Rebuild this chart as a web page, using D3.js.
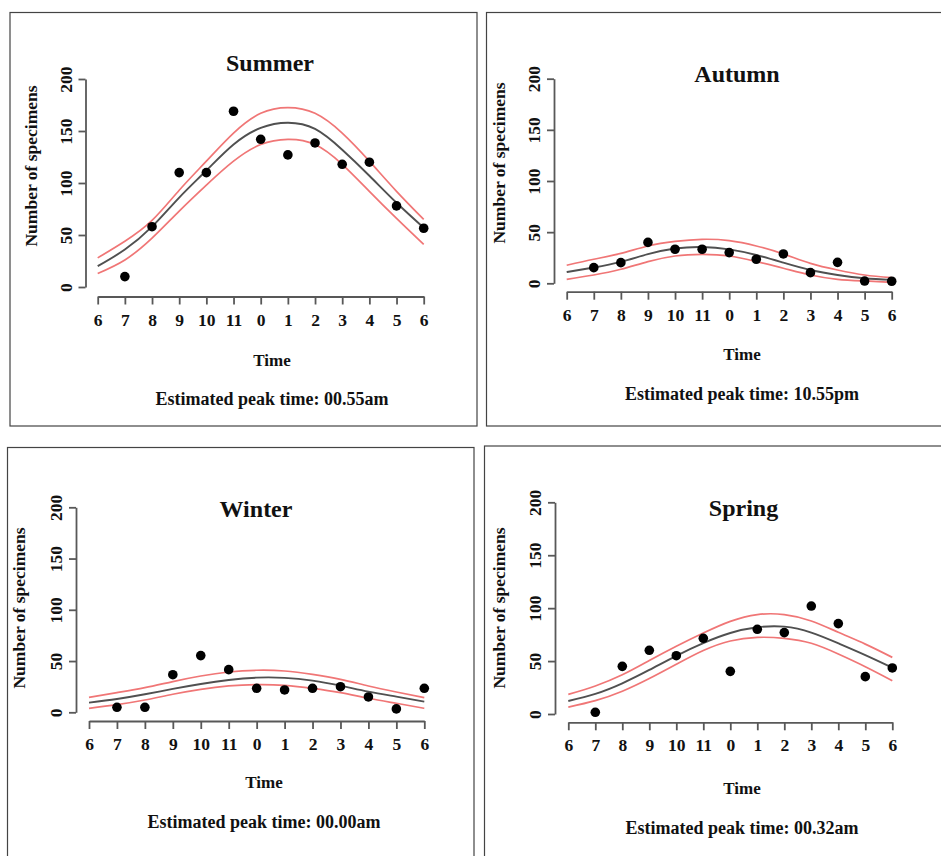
<!DOCTYPE html>
<html>
<head>
<meta charset="utf-8">
<script src="https://cdn.jsdelivr.net/npm/d3@7"></script>
<style>
body { margin: 0; background: #fff; }
svg { display: block; }
text { font-family: "Liberation Serif", "Times New Roman", serif; font-weight: bold; fill: #111; }
</style>
</head>
<body>
<div id="chart"></div>
<script>
/* DATA */
// Hour slots on the x axis (6pm -> 6am)
const hourLabels = ["6", "7", "8", "9", "10", "11", "0", "1", "2", "3", "4", "5", "6"];
const curveSlots = [0, 1, 2, 3, 4, 5, 6, 7, 8, 9, 10, 11, 12];
const countSlots = [1, 2, 3, 4, 5, 6, 7, 8, 9, 10, 11, 12];
const yTicks = [0, 50, 100, 150, 200];

// Summer
const summerCounts = [10, 58, 110, 110, 169, 142, 127, 138.5, 118, 120, 78, 56.5];
const summerFit = [20, 36, 58, 86, 112, 137, 153, 158, 152, 132, 107, 81, 57];
const summerUpper = [28, 44, 64, 93, 121, 148, 167, 172.5, 167, 148, 121, 92, 65];
const summerLower = [13, 26, 47, 73, 98, 121, 137, 142, 137, 118, 92, 66, 41];

// Autumn
const autumnCounts = [15.3, 20.2, 40, 33.3, 33.3, 30, 23.5, 28.7, 10.4, 20.5, 2.2, 2];
const autumnFit = [11, 15.5, 21, 28.5, 34, 35.5, 33.2, 27.7, 20.2, 13, 8.1, 4.9, 3.3];
const autumnUpper = [17.6, 23.5, 29.3, 36.5, 41, 43, 41.7, 36.5, 28.7, 19.5, 13, 8.1, 5.5];
const autumnLower = [3.9, 8.1, 13.7, 21.2, 26.7, 28.3, 26.7, 21.2, 14.7, 8.1, 3.9, 2.3, 1];

// Winter
const winterCounts = [4.9, 4.9, 36.7, 55.3, 41.6, 23.4, 21.8, 23.4, 25, 15, 3.3, 23.4];
const winterFit = [9.4, 13, 17.6, 22.8, 27.6, 31.5, 33.8, 33.6, 30.9, 26, 20.2, 15.3, 10.4];
const winterUpper = [14.6, 19.2, 24, 30, 35.4, 39.3, 41, 40.3, 37, 32.2, 25.7, 19.8, 14.3];
const winterLower = [3.9, 7.5, 12, 17.6, 22.4, 25.7, 27, 26.3, 23.4, 19.2, 13.7, 8.8, 3.9];

// Spring
const springCounts = [1.6, 45, 60.2, 55.1, 71.5, 40.3, 80, 76.9, 102, 85.4, 35.3, 43.5];
const springFit = [12.3, 19, 29, 41.6, 55, 67, 76.5, 81.9, 82.5, 76.9, 66.8, 55.7, 43.8];
const springUpper = [18.5, 26.5, 37, 50.5, 64, 76.5, 87.5, 93.9, 93.9, 87.9, 77.2, 66, 53.5];
const springLower = [6.5, 12.6, 21.5, 33.5, 47, 60, 69, 72.4, 71.5, 66.8, 56.7, 44.7, 31.5];

/* LAYOUT */
const panels = [
    {
        title: "Summer", peak: "Estimated peak time: 00.55am",
        counts: summerCounts, fit: summerFit, upper: summerUpper, lower: summerLower,
        box: [10, 12.5, 467, 413.5], axisX: 85.5, y0: 287, y1: 79, axisY: 296.5, x0: 97.7, x1: 423.7,
        titleX: 270, titleY: 71, labX: 272, timeY: 365.5, estY: 404.5, ylabX: 30.5, ylabY: 166
    },
    {
        title: "Autumn", peak: "Estimated peak time: 10.55pm",
        counts: autumnCounts, fit: autumnFit, upper: autumnUpper, lower: autumnLower,
        box: [486.5, 12.5, 470, 413.5], axisX: 554, y0: 283.3, y1: 78.7, axisY: 291.7, x0: 566.7, x1: 891.7,
        titleX: 737, titleY: 82, labX: 742, timeY: 360, estY: 400, ylabX: 499, ylabY: 163
    },
    {
        title: "Winter", peak: "Estimated peak time: 00.00am",
        counts: winterCounts, fit: winterFit, upper: winterUpper, lower: winterLower,
        box: [7.5, 447.5, 466.5, 420], axisX: 76, y0: 712.3, y1: 507.3, axisY: 721, x0: 89, x1: 424.3,
        titleX: 256, titleY: 516.5, labX: 264, timeY: 788, estY: 828, ylabX: 19, ylabY: 608
    },
    {
        title: "Spring", peak: "Estimated peak time: 00.32am",
        counts: springCounts, fit: springFit, upper: springUpper, lower: springLower,
        box: [484.5, 446, 470, 420], axisX: 555, y0: 714, y1: 502.3, axisY: 722.3, x0: 568.3, x1: 892.3,
        titleX: 743.5, titleY: 516, labX: 742, timeY: 794, estY: 834, ylabX: 499, ylabY: 608
    }
];

const W = 941, H = 856;
const red = "#f07676";
const dark = "#505050";
const axisCol = "#585858";

const svg = d3.select("#chart")
    .append("svg")
    .attr("width", W)
    .attr("height", H);
svg.append("rect").attr("width", W).attr("height", H).attr("fill", "#fff");

panels.forEach(p => {
    const g = svg.append("g");
    // Frame
    g.append("rect")
        .attr("x", p.box[0]).attr("y", p.box[1])
        .attr("width", p.box[2]).attr("height", p.box[3])
        .attr("fill", "none")
        .attr("stroke", "#444")
        .attr("stroke-width", 1.2);

    const x = d3.scaleLinear().domain([0, 12]).range([p.x0, p.x1]);
    const y = d3.scaleLinear().domain([0, 200]).range([p.y0, p.y1]);

    // X axis
    const xa = g.append("g")
        .attr("transform", `translate(0, ${p.axisY})`)
        .attr("color", axisCol)
        .call(d3.axisBottom(x).tickValues(curveSlots).tickFormat((d, i) => hourLabels[i]).tickSize(8).tickSizeOuter(0));
    xa.selectAll("path, line").attr("stroke-width", 1.8);
    xa.selectAll("text")
        .attr("y", 29)
        .attr("dy", null)
        .style("font-size", "17.5px");

    // Y axis
    const ya = g.append("g")
        .attr("transform", `translate(${p.axisX}, 0)`)
        .attr("color", axisCol)
        .call(d3.axisLeft(y).tickValues(yTicks).tickSize(7).tickSizeOuter(0));
    ya.selectAll("path, line").attr("stroke-width", 1.8);
    ya.selectAll("text")
        .attr("x", null)
        .attr("dy", "0.35em")
        .attr("text-anchor", "middle")
        .attr("transform", "translate(-20, 0) rotate(-90)")
        .style("font-size", "17.5px");

    // Fitted curve and bounds
    const line = (vals) => d3.line()
        .x((d, i) => x(curveSlots[i]))
        .y(d => y(d))
        .curve(d3.curveNatural)(vals);
    [p.upper, p.lower].forEach(vals => {
        g.append("path").attr("d", line(vals))
            .attr("fill", "none").attr("stroke", red).attr("stroke-width", 1.7);
    });
    g.append("path").attr("d", line(p.fit))
        .attr("fill", "none").attr("stroke", dark).attr("stroke-width", 1.9);

    // Observed counts
    g.selectAll("circle.pt")
        .data(p.counts)
        .join("circle")
        .attr("class", "pt")
        .attr("cx", (d, i) => x(countSlots[i]))
        .attr("cy", d => y(d))
        .attr("r", 4.8)
        .attr("fill", "#000");

    // Texts
    g.append("text")
        .attr("x", p.titleX).attr("y", p.titleY)
        .attr("text-anchor", "middle")
        .style("font-size", "24px")
        .text(p.title);
    g.append("text")
        .attr("x", p.labX).attr("y", p.timeY)
        .attr("text-anchor", "middle")
        .style("font-size", "17px")
        .text("Time");
    g.append("text")
        .attr("x", p.labX).attr("y", p.estY)
        .attr("text-anchor", "middle")
        .style("font-size", "18px")
        .text(p.peak);
    g.append("text")
        .attr("transform", `translate(${p.ylabX}, ${p.ylabY}) rotate(-90)`)
        .attr("dy", "0.35em")
        .attr("text-anchor", "middle")
        .style("font-size", "17.5px")
        .text("Number of specimens");
});
</script>
</body>
</html>
